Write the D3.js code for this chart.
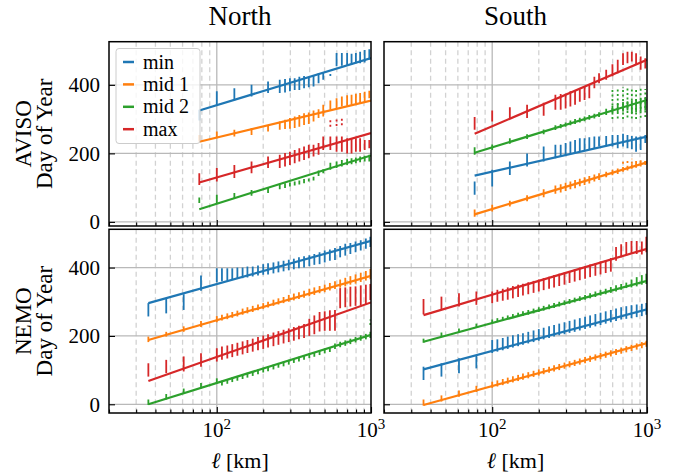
<!DOCTYPE html>
<html><head><meta charset="utf-8">
<script src="https://cdn.jsdelivr.net/npm/d3@7"></script>
<style>body{margin:0;background:#fff;} svg{display:block;}</style>
</head><body>
<script>
// ---------------- DATA ----------------
const seriesLabels = ["min", "mid 1", "mid 2", "max"];
const yTicks = [0, 200, 400];
const xMajorTicks = [100, 1000];
const xMajorLabels = [["10", "2"], ["10", "3"]];
const xMinorTicks = [20, 30, 40, 50, 60, 70, 80, 90, 200, 300, 400, 500, 600, 700, 800, 900];
const columnTitles = ["North", "South"];
const rowTitles = ["AVISO", "NEMO"];

const xAviso = [77, 100, 130, 168, 215, 256, 277, 298, 320, 343, 368, 395, 424, 457, 490, 545, 598, 647, 700, 748, 798, 850, 910, 975];
const xNemo = [36, 47, 61, 79, 100, 108, 117, 126, 136, 147, 158, 171, 185, 200, 215, 233, 251, 271, 293, 316, 341, 368, 398, 429, 464, 501, 541, 584, 631, 681, 735, 794, 858, 926, 990];

// fitted lines: [value at first x, value at 1000]; order min, mid 1, mid 2, max
const fitXAviso = [77, 1000];
const fitXNemo = [36, 1000];
const fitNorthAviso = [[325, 478], [234, 354], [37, 194], [115, 259]];
const fitSouthAviso = [[135, 249], [22, 174], [202, 356], [257, 473]];
const fitNorthNemo = [[296, 478], [188, 376], [0, 203], [68, 298]];
const fitSouthNemo = [[102, 278], [-2, 179], [183, 361], [261, 455]];

// error bars [low, high]
const barsNorthAvisoMin = [[296,327],[339,381],[354,390],[366,400],[376,410],[376,415],[378,417],[381,419],[385,419],[385,424],[390,426],[393,424],[395,429],[405,434],[415,436],[426,432],[454,493],[456,493],[458,493],[458,491],[463,493],[463,497],[465,502],[473,504]];
const barsNorthAvisoMid1 = [[235,254],[244,264],[249,269],[254,274],[264,283],[269,293],[271,298],[272,303],[274,308],[278,312],[283,317],[286,319],[293,325],[303,329],[308,342],[327,354],[332,361],[337,366],[339,370],[342,371],[345,374],[346,376],[351,380],[361,383]];
const barsNorthAvisoMid2 = [[55,71],[55,79],[69,84],[76,93],[84,101],[95,111],[99,113],[103,115],[106,118],[109,121],[113,125],[118,127],[121,132],[134,150],[142,154],[152,173],[157,176],[162,181],[166,184],[168,186],[171,188],[174,191],[176,193],[176,196]];
const barsNorthAvisoMax = [[108,142],[118,157],[128,166],[142,176],[157,191],[157,196],[162,201],[166,205],[171,210],[176,215],[181,220],[186,225],[191,225],[196,230],[210,249],[210,249],[205,249],[205,249],[200,244],[200,244],[205,244],[205,244],[210,239],[215,239]];

const barsSouthAvisoMin = [[79,118],[103,152],[137,176],[162,200],[176,220],[186,225],[191,225],[196,230],[200,235],[202,239],[205,244],[210,244],[210,247],[215,249],[220,249],[220,251],[220,254],[215,254],[220,257],[215,254],[212,251],[205,249],[210,249],[230,254]];
const barsSouthAvisoMid1 = [[15,36],[30,50],[45,62],[60,78],[72,95],[82,106],[86,110],[90,114],[95,118],[98,122],[104,126],[108,130],[112,134],[118,138],[122,142],[130,146],[136,152],[140,156],[146,160],[150,164],[155,168],[158,172],[162,176],[166,178]];
const barsSouthAvisoMid2 = [[196,218],[210,226],[228,244],[242,256],[256,270],[268,282],[273,286],[278,290],[282,296],[286,300],[290,304],[294,308],[298,312],[302,316],[306,320],[312,330],[318,338],[320,345],[322,350],[325,352],[318,355],[320,358],[322,360],[325,362]];
const barsSouthAvisoMax = [[269,306],[293,325],[300,335],[303,342],[310,348],[327,371],[327,373],[331,374],[337,381],[342,385],[351,387],[356,395],[361,400],[390,424],[405,434],[415,444],[425,460],[434,473],[458,492],[463,497],[468,497],[458,492],[444,483],[448,478]];

const barsNorthNemoMin = [[257,296],[266,311],[276,322],[332,377],[357,398],[360,398],[362,398],[364,398],[367,400],[369,400],[371,403],[374,403],[377,406],[379,410],[380,413],[383,415],[386,418],[389,420],[392,423],[395,426],[398,430],[400,433],[404,436],[408,440],[410,445],[415,450],[420,453],[422,457],[430,463],[435,470],[440,472],[445,476],[450,480],[455,485],[460,490]];
const barsNorthNemoMid1 = [[182,198],[198,212],[212,228],[226,244],[240,258],[245,262],[249,266],[253,270],[257,274],[262,280],[266,284],[270,288],[275,292],[279,296],[283,300],[288,306],[292,310],[296,314],[300,320],[304,324],[308,328],[312,332],[316,338],[320,342],[325,346],[328,350],[333,355],[337,360],[341,365],[345,370],[350,375],[353,380],[358,385],[362,390],[366,396]];
const barsNorthNemoMid2 = [[-2,14],[14,30],[30,46],[46,62],[60,76],[55,69],[60,74],[65,79],[69,83],[74,88],[78,92],[83,97],[88,102],[93,107],[97,111],[102,116],[107,121],[111,125],[116,130],[121,135],[125,139],[130,144],[135,149],[139,153],[144,158],[149,163],[153,167],[162,178],[167,183],[171,187],[176,192],[181,197],[186,202],[190,206],[194,212]];
const barsNorthNemoMax = [[81,120],[91,130],[96,140],[110,149],[125,164],[130,169],[134,172],[138,176],[142,180],[146,184],[150,188],[154,192],[158,197],[162,201],[166,205],[170,210],[174,214],[178,218],[182,222],[186,226],[190,230],[194,235],[200,250],[205,260],[213,270],[215,272],[215,275],[215,276],[281,340],[284,342],[286,344],[288,345],[290,348],[292,350],[305,352]];

const barsSouthNemoMin = [[71,110],[81,120],[91,135],[105,144],[150,188],[154,190],[158,194],[162,198],[166,202],[170,205],[174,208],[178,212],[182,216],[186,220],[190,224],[194,228],[198,232],[202,236],[205,240],[209,244],[212,248],[216,252],[220,256],[224,260],[228,264],[232,268],[236,272],[240,276],[244,280],[248,284],[250,287],[252,290],[255,292],[258,294],[262,296]];
const barsSouthNemoMid1 = [[-4,14],[8,26],[22,40],[36,54],[48,66],[52,70],[56,74],[60,78],[64,82],[68,86],[72,90],[76,94],[80,98],[84,102],[88,106],[92,110],[96,114],[100,118],[104,122],[108,126],[112,130],[116,134],[120,138],[124,142],[128,146],[132,150],[136,154],[140,158],[144,162],[148,166],[152,170],[156,174],[160,178],[164,182],[168,186]];
const barsSouthNemoMid2 = [[180,192],[198,210],[210,222],[224,236],[236,248],[240,252],[244,256],[248,260],[252,264],[256,268],[258,272],[262,276],[266,280],[270,284],[274,288],[278,292],[282,296],[286,300],[290,304],[294,308],[298,312],[302,316],[306,320],[310,325],[314,330],[318,334],[322,338],[326,343],[330,348],[335,352],[340,356],[342,365],[345,372],[350,378],[352,382]];
const barsSouthNemoMax = [[263,308],[276,315],[286,325],[291,330],[296,330],[300,335],[303,338],[306,342],[310,346],[314,350],[318,353],[322,357],[326,361],[330,365],[334,369],[338,373],[342,378],[346,382],[350,386],[355,390],[359,395],[363,400],[367,404],[372,409],[376,413],[380,418],[384,422],[388,428],[420,460],[430,468],[435,475],[440,478],[440,478],[438,476],[445,490]];

// secondary (dotted) bars
const dotNorthAvisoX = [545, 598, 647];
const dotNorthAvisoMax = [[278,303],[280,305],[282,303]];
const dotSouthAvisoX = [598, 647, 700, 748, 798, 850, 910, 975];
const dotSouthAvisoMid2 = [[300,390],[302,392],[300,394],[305,392],[302,390],[300,392],[304,390],[306,388]];
const dotSouthAvisoX2 = [700, 748, 798, 850, 910, 975];
const dotSouthAvisoMid1 = [[170,180],[172,182],[170,184],[172,184],[174,182],[172,182]];
const dotNorthNemoX = [990];
const dotNorthNemoMid2 = [[232,248]];

// ---------------- DRAW ----------------
const colors = ["#1f77b4", "#ff7f0e", "#2ca02c", "#d62728"];
const FONT = "'Liberation Serif', 'DejaVu Serif', serif";
const svg = d3.select("body").append("svg").attr("width", 690).attr("height", 476);

const cols = [{left: 109, right: 371}, {left: 384, right: 647}];
const rows = [{top: 41.7, bottom: 226, yDom: [-12, 526]}, {top: 229.3, bottom: 413, yDom: [-25.5, 512]}];

const panels = [
  {r: 0, c: 0, xs: xAviso, fitX: fitXAviso, fit: fitNorthAviso, bars: [barsNorthAvisoMin, barsNorthAvisoMid1, barsNorthAvisoMid2, barsNorthAvisoMax],
   dots: [{xs: dotNorthAvisoX, v: dotNorthAvisoMax, s: 3}]},
  {r: 0, c: 1, xs: xAviso, fitX: fitXAviso, fit: fitSouthAviso, bars: [barsSouthAvisoMin, barsSouthAvisoMid1, barsSouthAvisoMid2, barsSouthAvisoMax],
   dots: [{xs: dotSouthAvisoX, v: dotSouthAvisoMid2, s: 2}, {xs: dotSouthAvisoX2, v: dotSouthAvisoMid1, s: 1}]},
  {r: 1, c: 0, xs: xNemo, fitX: fitXNemo, fit: fitNorthNemo, bars: [barsNorthNemoMin, barsNorthNemoMid1, barsNorthNemoMid2, barsNorthNemoMax],
   dots: [{xs: dotNorthNemoX, v: dotNorthNemoMid2, s: 2}]},
  {r: 1, c: 1, xs: xNemo, fitX: fitXNemo, fit: fitSouthNemo, bars: [barsSouthNemoMin, barsSouthNemoMid1, barsSouthNemoMid2, barsSouthNemoMax],
   dots: []}
];

panels.forEach((p, i) => {
  const C = cols[p.c], R = rows[p.r];
  const x = d3.scaleLog().domain([20, 1000]).range([C.left, C.right]);
  const y = d3.scaleLinear().domain(R.yDom).range([R.bottom, R.top]);
  const g = svg.append("g");
  const clipId = "clip" + i;
  svg.append("clipPath").attr("id", clipId).append("rect")
    .attr("x", C.left).attr("y", R.top).attr("width", C.right - C.left).attr("height", R.bottom - R.top);

  // grid
  const grid = g.append("g");
  grid.selectAll(".gminor").data(xMinorTicks.filter(v => v > 20)).join("line")
    .attr("x1", d => x(d)).attr("x2", d => x(d)).attr("y1", R.top).attr("y2", R.bottom)
    .attr("stroke", "#d2d2d2").attr("stroke-width", 1.3).attr("stroke-dasharray", "5,3.5");
  grid.selectAll(".gmajor").data([100]).join("line")
    .attr("x1", d => x(d)).attr("x2", d => x(d)).attr("y1", R.top).attr("y2", R.bottom)
    .attr("stroke", "#b9b9b9").attr("stroke-width", 1.3);
  grid.selectAll(".gy").data(yTicks).join("line")
    .attr("x1", C.left).attr("x2", C.right).attr("y1", d => y(d)).attr("y2", d => y(d))
    .attr("stroke", "#b9b9b9").attr("stroke-width", 1.3);

  const data = g.append("g").attr("clip-path", `url(#${clipId})`);
  // error bars
  p.bars.forEach((arr, s) => {
    data.append("g").selectAll("line").data(arr.map((b, k) => ({x: p.xs[k], lo: b[0], hi: b[1]}))).join("line")
      .attr("x1", d => x(d.x)).attr("x2", d => x(d.x))
      .attr("y1", d => y(d.lo)).attr("y2", d => y(d.hi))
      .attr("stroke", colors[s]).attr("stroke-width", 1.8);
  });
  p.dots.forEach(dd => {
    data.append("g").selectAll("line").data(dd.v.map((b, k) => ({x: dd.xs[k], lo: b[0], hi: b[1]}))).join("line")
      .attr("x1", d => x(d.x)).attr("x2", d => x(d.x))
      .attr("y1", d => y(d.lo)).attr("y2", d => y(d.hi))
      .attr("stroke", colors[dd.s]).attr("stroke-width", 1.8).attr("stroke-dasharray", "2,2.5");
  });
  // fitted lines
  p.fit.forEach((f, s) => {
    data.append("line")
      .attr("x1", x(p.fitX[0])).attr("x2", x(p.fitX[1]))
      .attr("y1", y(f[0])).attr("y2", y(f[1]))
      .attr("stroke", colors[s]).attr("stroke-width", 2.2);
  });

  // axes (ticks inside)
  const ay = g.append("g").attr("transform", `translate(${C.left},0)`)
    .call(d3.axisLeft(y).tickValues(yTicks).tickSize(-6).tickPadding(9)
      .tickFormat(p.c === 0 ? d3.format("d") : () => ""));
  const ax = g.append("g").attr("transform", `translate(0,${R.bottom})`)
    .call(d3.axisBottom(x).tickValues(xMajorTicks).tickSize(-6).tickFormat(() => ""));
  const axm = g.append("g").attr("transform", `translate(0,${R.bottom})`)
    .call(d3.axisBottom(x).tickValues(xMinorTicks).tickSize(-3.5).tickFormat(() => ""));
  [ay, ax, axm].forEach(a => {
    a.select(".domain").remove();
    a.selectAll(".tick line").attr("stroke", "#000").attr("stroke-width", 1.1);
    a.selectAll("text").attr("font-family", FONT).attr("font-size", 21).attr("fill", "#000");
  });

  if (p.r === 1) {
    xMajorTicks.forEach((v, k) => {
      const t = g.append("text").attr("x", x(v)).attr("y", 437).attr("text-anchor", "middle")
        .attr("font-family", FONT).attr("font-size", 21).attr("fill", "#000");
      t.append("tspan").text(xMajorLabels[k][0]);
      t.append("tspan").attr("dy", -8).attr("font-size", 15).text(xMajorLabels[k][1]);
    });
    const xl = g.append("text").attr("x", (C.left + C.right) / 2).attr("y", 468).attr("text-anchor", "middle")
      .attr("font-family", FONT).attr("font-size", 22).attr("fill", "#000");
    xl.append("tspan").attr("font-style", "italic").text("ℓ");
    xl.append("tspan").text(" [km]");
  }
  if (p.r === 0) {
    g.append("text").attr("x", (C.left + C.right) / 2).attr("y", 25).attr("text-anchor", "middle")
      .attr("font-family", FONT).attr("font-size", 27).attr("fill", "#000").text(columnTitles[p.c]);
  }
  if (p.c === 0) {
    const cy = (R.top + R.bottom) / 2;
    g.append("text").attr("transform", `translate(31,${cy}) rotate(-90)`).attr("text-anchor", "middle")
      .attr("font-family", FONT).attr("font-size", 23).attr("fill", "#000").text(rowTitles[p.r]);
    g.append("text").attr("transform", `translate(52,${cy}) rotate(-90)`).attr("text-anchor", "middle")
      .attr("font-family", FONT).attr("font-size", 23).attr("fill", "#000").text("Day of Year");
  }

  // frame
  g.append("rect").attr("x", C.left).attr("y", R.top).attr("width", C.right - C.left).attr("height", R.bottom - R.top)
    .attr("fill", "none").attr("stroke", "#000").attr("stroke-width", 1.5);

  // legend
  if (p.r === 0 && p.c === 0) {
    const lg = g.append("g");
    lg.append("rect").attr("x", 116).attr("y", 48.5).attr("width", 84).attr("height", 95).attr("rx", 3)
      .attr("fill", "#fff").attr("fill-opacity", 0.8).attr("stroke", "#cccccc").attr("stroke-width", 1);
    seriesLabels.forEach((lab, s) => {
      const yy = 62 + s * 22.4;
      lg.append("line").attr("x1", 123).attr("x2", 134).attr("y1", yy).attr("y2", yy)
        .attr("stroke", colors[s]).attr("stroke-width", 2.5);
      lg.append("text").attr("x", 143).attr("y", yy).attr("dy", "0.33em")
        .attr("font-family", FONT).attr("font-size", 20).attr("fill", "#000").text(lab);
    });
  }
});
</script>
</body></html>
